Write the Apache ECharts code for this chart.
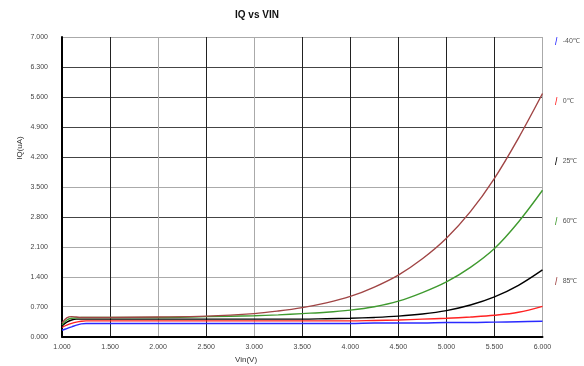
<!DOCTYPE html>
<html>
<head>
<meta charset="utf-8">
<script src="https://cdn.jsdelivr.net/npm/echarts@6/dist/echarts.min.js"></script>
<style>html,body{margin:0;padding:0;background:#fff}#c{width:584px;height:366px}</style>
</head>
<body>
<div id="c"></div>
<script>
var vin = [1.0, 1.05, 1.1, 1.15, 1.2, 1.25, 1.3, 1.5, 2.0, 2.5, 3.0, 3.25, 3.5, 3.75, 4.0, 4.25, 4.5, 4.75, 5.0, 5.25, 5.5, 5.75, 6.0];
var iqM40 = [0.15, 0.19, 0.23, 0.27, 0.30, 0.31, 0.31, 0.31, 0.31, 0.31, 0.31, 0.31, 0.31, 0.31, 0.31, 0.32, 0.32, 0.32, 0.33, 0.33, 0.34, 0.35, 0.36];
var iq0 = [0.22, 0.27, 0.31, 0.34, 0.36, 0.37, 0.37, 0.37, 0.37, 0.37, 0.37, 0.37, 0.37, 0.37, 0.37, 0.38, 0.39, 0.41, 0.43, 0.46, 0.50, 0.57, 0.71];
var iq25 = [0.25, 0.34, 0.39, 0.41, 0.41, 0.41, 0.41, 0.41, 0.41, 0.41, 0.41, 0.41, 0.41, 0.42, 0.43, 0.45, 0.48, 0.53, 0.61, 0.74, 0.93, 1.20, 1.56];
var iq60 = [0.28, 0.39, 0.43, 0.44, 0.45, 0.45, 0.45, 0.45, 0.45, 0.47, 0.49, 0.51, 0.54, 0.57, 0.62, 0.70, 0.83, 1.03, 1.28, 1.62, 2.06, 2.68, 3.42];
var iq85 = [0.32, 0.44, 0.47, 0.46, 0.45, 0.45, 0.45, 0.45, 0.46, 0.48, 0.54, 0.60, 0.68, 0.79, 0.94, 1.16, 1.44, 1.82, 2.30, 2.92, 3.70, 4.64, 5.68];
var seriesNames = ['-40℃', '0℃', '25℃', '60℃', '85℃'];
var seriesValues = [iqM40, iq0, iq25, iq60, iq85];
var seriesColors = ['#2a2aff', '#ff2222', '#000000', '#3f9a2f', '#a04545'];
var chartTitle = 'IQ vs VIN';
var xTitle = 'Vin(V)';
var yTitle = 'IQ(uA)';

var font = 'Liberation Sans, Arial, sans-serif';
var chart = echarts.init(document.getElementById('c'));
var series = seriesNames.map(function (n, k) {
  return {
    name: n,
    type: 'line',
    showSymbol: false,
    smooth: 0.35,
    data: vin.map(function (x, i) { return [x, seriesValues[k][i]]; }),
    lineStyle: { color: seriesColors[k], width: 1.4 },
    itemStyle: { color: seriesColors[k] },
    animation: false,
    z: 3
  };
});
chart.setOption({
  animation: false,
  backgroundColor: '#fff',
  grid: { left: 62, right: 41.5, top: 37, bottom: 29.3 },
  graphic: [
    { type: 'text', left: 235, top: 10, style: { text: chartTitle, font: 'bold 10px ' + font, fill: '#111' } },
    { type: 'text', x: 246, y: 360, style: { text: xTitle, font: '8px ' + font, fill: '#333', align: 'center', verticalAlign: 'middle' } },
    { type: 'text', x: 20, y: 148, rotation: Math.PI / 2, style: { text: yTitle, font: '8px ' + font, fill: '#333', align: 'center', verticalAlign: 'middle' } }
  ],
  legend: {
    orient: 'vertical',
    left: 555,
    top: 37,
    padding: 0,
    itemWidth: 3,
    itemHeight: 8,
    itemGap: 52,
    icon: 'path://M2,0 L3,0 L1,10 L0,10 Z',
    textStyle: { fontSize: 7, color: '#555', fontFamily: font, lineHeight: 8 },
    data: seriesNames
  },
  xAxis: {
    type: 'value',
    min: 1, max: 6, interval: 0.5,
    axisLine: { show: true, lineStyle: { color: '#000', width: 2 } },
    axisTick: { show: false },
    axisLabel: { fontSize: 7, color: '#444', fontFamily: font, margin: 7, formatter: function (v) { return v.toFixed(3); } },
    splitLine: { show: true, lineStyle: { width: 1, color: ['#000', '#222', '#aaa', '#222', '#aaa', '#222', '#222', '#222', '#222', '#222', '#aaa'] } }
  },
  yAxis: {
    type: 'value',
    min: 0, max: 7, interval: 0.7,
    axisLine: { show: true, lineStyle: { color: '#000', width: 2 } },
    axisTick: { show: false },
    axisLabel: { fontSize: 7, color: '#444', fontFamily: font, margin: 14, formatter: function (v) { return v.toFixed(3); } },
    splitLine: { show: true, lineStyle: { width: 1, color: ['#000', '#aaa', '#aaa', '#aaa', '#444', '#aaa', '#444', '#444', '#444', '#444', '#aaa'] } }
  },
  series: series
});
</script>
</body>
</html>
